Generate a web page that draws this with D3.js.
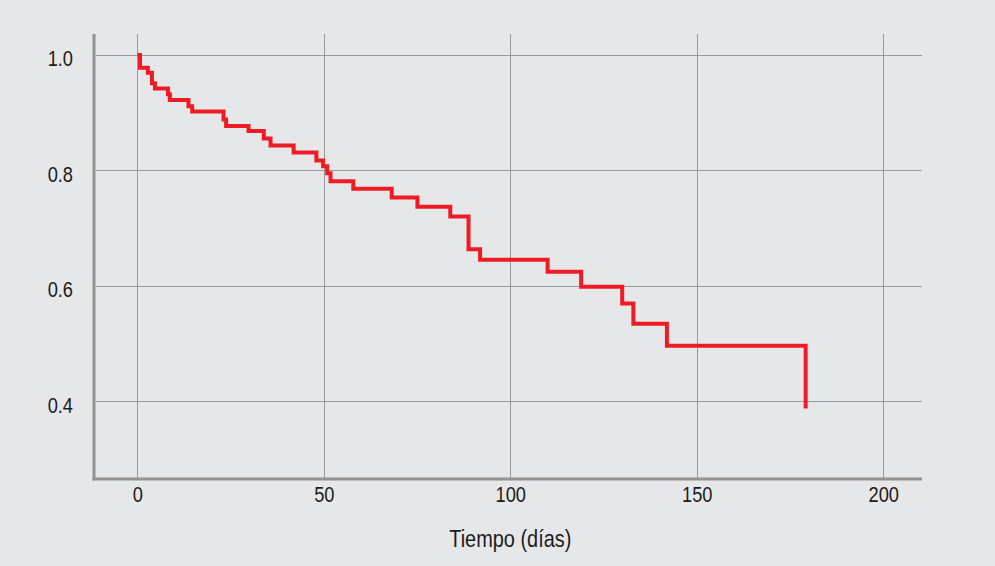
<!DOCTYPE html>
<html>
<head>
<meta charset="utf-8">
<script src="https://cdn.jsdelivr.net/npm/d3@7"></script>
<style>
  html, body { margin: 0; padding: 0; background: #e6e7e9; }
  svg { display: block; }
  .tick-label, .axis-title {
    font-family: "Liberation Sans Narrow", "Arial Narrow", "Liberation Sans", Arial, sans-serif;
    fill: #1c1c1c;
  }
</style>
</head>
<body>
<div id="chart"></div>
<script>
// survival curve (time in days, survival probability)
const times = [0, 0.7, 2.8, 3.9, 4.7, 8.2, 8.7, 13.7, 14.7, 23.1, 23.8, 29.8, 33.9, 35.7, 41.9,
  48, 49.8, 50.9, 51.8, 57.9, 68.2, 75.1, 83.9, 88.8, 91.9, 110, 119, 130, 133, 142, 179.2];
const survival = [1.0, 0.978, 0.969, 0.951, 0.942, 0.932, 0.922, 0.911, 0.902, 0.888, 0.877, 0.868, 0.855, 0.843, 0.831,
  0.817, 0.807, 0.795, 0.781, 0.768, 0.753, 0.737, 0.720, 0.663, 0.645, 0.624, 0.598, 0.569, 0.534, 0.496, 0.387];

const xTicks = [0, 50, 100, 150, 200];
const yTicks = [0.4, 0.6, 0.8, 1.0];
const xTitle = 'Tiempo (días)';

const width = 995, height = 566;
const plotL = 96, plotR = 922, plotT = 34, plotB = 478;
const narrow = 0.83; // no narrow font installed, squeeze text horizontally

const svg = d3.select('#chart').append('svg')
  .attr('width', width)
  .attr('height', height);

const x = d3.scaleLinear().domain([-11.1, 210.4]).range([plotL, plotR]);
const y = d3.scaleLinear().domain([0.2665, 1.0364]).range([plotB, plotT]);

// grid
const grid = svg.append('g');
grid.selectAll('line.vg')
  .data(xTicks)
  .enter()
  .append('line')
  .attr('x1', d => Math.round(x(d)) + 0.5)
  .attr('x2', d => Math.round(x(d)) + 0.5)
  .attr('y1', plotT)
  .attr('y2', plotB)
  .attr('stroke', '#9a9a9a')
  .attr('stroke-width', 1);

grid.selectAll('line.hg')
  .data(yTicks)
  .enter()
  .append('line')
  .attr('x1', plotL)
  .attr('x2', plotR)
  .attr('y1', d => Math.round(y(d)) + 0.5)
  .attr('y2', d => Math.round(y(d)) + 0.5)
  .attr('stroke', '#9a9a9a')
  .attr('stroke-width', 1);

// axes
const xAxis = svg.append('g')
  .attr('transform', `translate(0,${plotB})`)
  .call(d3.axisBottom(x).tickValues(xTicks).tickSize(0).tickPadding(0).tickFormat(d3.format('d')));
xAxis.select('.domain').remove();
xAxis.selectAll('text')
  .attr('class', 'tick-label')
  .attr('y', 0)
  .attr('dy', null)
  .attr('transform', `translate(0,23.5) scale(${narrow},1)`)
  .attr('font-size', '22px')
  .attr('fill', '#1c1c1c');

const yAxis = svg.append('g')
  .attr('transform', `translate(${plotL},0)`)
  .call(d3.axisLeft(y).tickValues(yTicks).tickSize(0).tickPadding(0).tickFormat(d3.format('.1f')));
yAxis.select('.domain').remove();
yAxis.selectAll('text')
  .attr('class', 'tick-label')
  .attr('x', 0)
  .attr('dy', '0.5em')
  .attr('transform', `translate(${73 - plotL},0) scale(${narrow},1)`)
  .attr('font-size', '22px')
  .attr('fill', '#1c1c1c');

// thick axis lines
svg.append('line')
  .attr('x1', 94).attr('x2', 94)
  .attr('y1', plotT).attr('y2', plotB + 2.5)
  .attr('stroke', '#939393')
  .attr('stroke-width', 3);
svg.append('line')
  .attr('x1', 92.5).attr('x2', plotR)
  .attr('y1', plotB + 1).attr('y2', plotB + 1)
  .attr('stroke', '#939393')
  .attr('stroke-width', 3);

// survival curve
const pts = times.map((t, i) => [t, survival[i]]);
const line = d3.line()
  .x(d => x(d[0]))
  .y(d => y(d[1]))
  .curve(d3.curveStepAfter);

svg.append('path')
  .datum(pts)
  .attr('d', line)
  .attr('fill', 'none')
  .attr('stroke', '#ed1c24')
  .attr('stroke-width', 4)
  .attr('stroke-linejoin', 'miter')
  .attr('stroke-linecap', 'butt');

// axis title
svg.append('text')
  .attr('class', 'axis-title')
  .attr('transform', `translate(${(x(0) + x(200)) / 2},547) scale(${narrow},1)`)
  .attr('text-anchor', 'middle')
  .attr('font-size', '24px')
  .text(xTitle);
</script>
</body>
</html>
